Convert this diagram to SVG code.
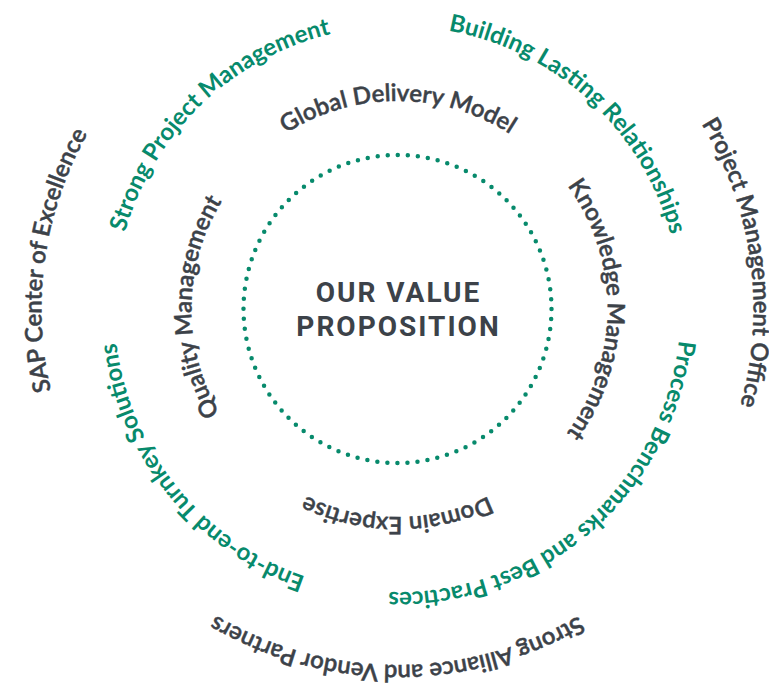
<svg xmlns="http://www.w3.org/2000/svg" xmlns:xlink="http://www.w3.org/1999/xlink" width="769" height="687" viewBox="0 0 769 687">
<style>
.inner{font-family:Lato,"Open Sans","Liberation Sans",sans-serif;font-size:24px;font-weight:600;fill:#3c4249;stroke:#3c4249;stroke-width:0.45px}
.mid{font-family:Lato,"Open Sans","Liberation Sans",sans-serif;font-size:24px;font-weight:700;fill:#078a6c}
.outer{font-family:Lato,"Open Sans","Liberation Sans",sans-serif;font-size:24px;font-weight:600;fill:#3c4249;stroke:#3c4249;stroke-width:0.45px}
.title{font-family:Roboto,"Liberation Sans",sans-serif;font-size:28px;font-weight:700;fill:#3c4249;letter-spacing:2px}
</style>
<defs>
<path id="r1" d="M397.5,101 A208,208 0 1 1 397.5,517 A208,208 0 1 1 397.5,101 A208,208 0 1 1 397.5,517 A208,208 0 1 1 397.5,101"/>
<path id="rk" d="M397.5,99 A210,210 0 1 1 397.5,519 A210,210 0 1 1 397.5,99 A210,210 0 1 1 397.5,519 A210,210 0 1 1 397.5,99"/>
<path id="rq" d="M397.5,103 A206,206 0 1 1 397.5,515 A206,206 0 1 1 397.5,103 A206,206 0 1 1 397.5,515 A206,206 0 1 1 397.5,103"/>
<path id="r2" d="M397.5,26 A283,283 0 1 1 397.5,592 A283,283 0 1 1 397.5,26 A283,283 0 1 1 397.5,592 A283,283 0 1 1 397.5,26"/>
<path id="r3" d="M397.5,-47 A356,356 0 1 1 397.5,665 A356,356 0 1 1 397.5,-47 A356,356 0 1 1 397.5,665 A356,356 0 1 1 397.5,-47"/>
</defs>
<g id="core">
<circle cx="397.5" cy="309" r="154" fill="none" stroke="#078a6c" stroke-width="4.5" stroke-linecap="round" stroke-dasharray="0 10.079"/>
<text class="title" x="398.5" y="302" text-anchor="middle">OUR VALUE</text>
<text class="title" x="398.5" y="336" text-anchor="middle">PROPOSITION</text>
</g>
<g id="global-delivery"><text class="inner" text-anchor="middle"><textPath xlink:href="#r1" startOffset="1306.9">Global Delivery Model</textPath></text></g>
<g id="knowledge"><text class="inner" text-anchor="middle"><textPath xlink:href="#rk" startOffset="1649.3">Knowledge Management</textPath></text></g>
<g id="domain"><text class="inner" text-anchor="middle"><textPath xlink:href="#r1" startOffset="653.5">Domain Expertise</textPath></text></g>
<g id="quality"><text class="inner" text-anchor="middle"><textPath xlink:href="#rq" startOffset="972.5">Quality Management</textPath></text></g>
<g id="strong-pm"><text class="mid" text-anchor="middle"><textPath xlink:href="#r2" startOffset="1560.8">Strong Project Management</textPath></text></g>
<g id="building"><text class="mid" text-anchor="middle"><textPath xlink:href="#r2" startOffset="1988.1">Building Lasting Relationships</textPath></text></g>
<g id="process"><text class="mid" text-anchor="middle"><textPath xlink:href="#r2" startOffset="2464.7">Process Benchmarks and Best Practices</textPath></text></g>
<g id="end-to-end"><text class="mid" text-anchor="middle"><textPath xlink:href="#r2" startOffset="1141.0">End-to-end Turnkey Solutions</textPath></text></g>
<g id="sap"><text class="outer" text-anchor="middle"><textPath xlink:href="#r3" startOffset="1727.4">SAP Center of Excellence</textPath></text></g>
<g id="pmo"><text class="outer" text-anchor="middle"><textPath xlink:href="#r3" startOffset="2746.3">Project Management Office</textPath></text></g>
<g id="alliance"><text class="outer" text-anchor="middle"><textPath xlink:href="#r3" startOffset="1118.4">Strong Alliance and Vendor Partners</textPath></text></g>
</svg>
